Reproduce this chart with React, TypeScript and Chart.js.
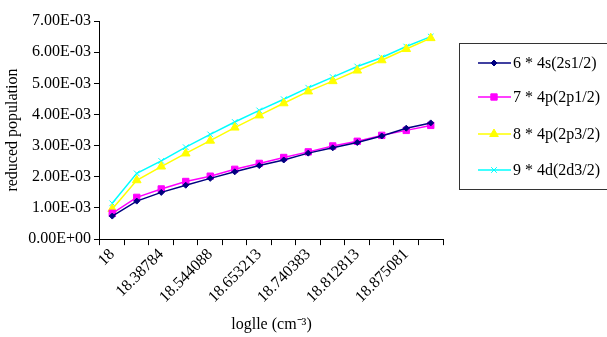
import React, { useEffect, useRef } from 'react';
import { Chart, registerables } from 'chart.js';
import { drawPoint } from 'chart.js/helpers';

Chart.register(...registerables);

const categories = ['18', '18.30103', '18.38784', '18.477121', '18.544088', '18.60206', '18.653213', '18.69897', '18.740383', '18.778151', '18.812813', '18.845098', '18.875081', '18.90309'];

const s4s = [0.74, 1.22, 1.50, 1.73, 1.95, 2.16, 2.36, 2.54, 2.76, 2.93, 3.10, 3.31, 3.56, 3.73].map(v => v * 1e-3);
const s4p1 = [0.83, 1.34, 1.61, 1.85, 2.02, 2.24, 2.43, 2.62, 2.80, 2.99, 3.14, 3.33, 3.49, 3.65].map(v => v * 1e-3);
const s4p3 = [0.97, 1.89, 2.33, 2.75, 3.16, 3.58, 3.97, 4.36, 4.74, 5.07, 5.41, 5.74, 6.10, 6.45].map(v => v * 1e-3);
const s4d = [1.15, 2.11, 2.51, 2.95, 3.36, 3.76, 4.13, 4.49, 4.86, 5.20, 5.54, 5.83, 6.18, 6.50].map(v => v * 1e-3);

const seriesLabels = ['6 * 4s(2s1/2)', '7 * 4p(2p1/2)', '8 * 4p(2p3/2)', '9 * 4d(2d3/2)'];
const xTitle = 'loglle (cm\u207B\u00B3)';
const yTitle = 'reduced population';

const FONT = "'Liberation Serif', 'Times New Roman', serif";

function fmtExp(v: number): string {
  if (v === 0) return '0.00E+00';
  const e = Math.floor(Math.log10(Math.abs(v)) + 1e-9);
  const m = v / Math.pow(10, e);
  const sign = e < 0 ? '-' : '+';
  const ae = Math.abs(e);
  return m.toFixed(2) + 'E' + sign + (ae < 10 ? '0' + ae : String(ae));
}

const legendPlugin = {
  id: 'boxLegend',
  afterDraw(chart: any) {
    const ctx = chart.ctx;
    ctx.save();
    ctx.strokeStyle = '#333';
    ctx.lineWidth = 1;
    ctx.strokeRect(459.5, 43.5, 160, 146);
    const rows = [63, 97, 134, 170];
    chart.data.datasets.forEach((ds: any, i: number) => {
      const y = rows[i];
      ctx.strokeStyle = ds.borderColor;
      ctx.lineWidth = 1.5;
      ctx.beginPath();
      ctx.moveTo(478, y);
      ctx.lineTo(511, y);
      ctx.stroke();
      ctx.fillStyle = ds.pointBackgroundColor;
      ctx.strokeStyle = ds.pointBorderColor;
      ctx.lineWidth = 1;
      drawPoint(ctx, { pointStyle: ds.pointStyle, radius: ds.pointRadius, borderWidth: 1, rotation: 0 }, 494, y);
      ctx.fillStyle = '#000';
      ctx.font = '16px ' + FONT;
      ctx.textBaseline = 'middle';
      ctx.textAlign = 'left';
      ctx.fillText(ds.label, 513, y + 1);
    });
    ctx.restore();
  },
};

export default function App() {
  const ref = useRef<HTMLCanvasElement>(null);
  useEffect(() => {
    if (!ref.current) return;
    Chart.defaults.font.family = FONT;
    Chart.defaults.font.size = 16;
    Chart.defaults.color = '#000';
    const mk = (label: string, data: number[], color: string, style: string, r: number) => ({
      label,
      data,
      borderColor: color,
      backgroundColor: color,
      pointBackgroundColor: color,
      pointBorderColor: color,
      pointStyle: style,
      pointRadius: r,
      pointBorderWidth: 1,
      borderWidth: 1.5,
      tension: 0,
      fill: false,
    });
    const chart = new Chart(ref.current, {
      type: 'line',
      data: {
        labels: categories,
        datasets: [
          mk(seriesLabels[0], s4s, '#000080', 'rectRot', 3),
          mk(seriesLabels[1], s4p1, '#FF00FF', 'rect', 4.5),
          mk(seriesLabels[2], s4p3, '#FFFF00', 'triangle', 5),
          mk(seriesLabels[3], s4d, '#00FFFF', 'crossRot', 4),
        ] as any,
      },
      options: {
        animation: false,
        responsive: false,
        layout: { padding: { left: 3, right: 164, top: 21, bottom: 1 } },
        plugins: { legend: { display: false }, tooltip: { enabled: false } },
        scales: {
          x: {
            offset: true,
            grid: { offset: true, drawOnChartArea: false, drawTicks: true, tickLength: 6, color: '#000' },
            border: { color: '#000', width: 1 },
            ticks: {
              autoSkip: false,
              maxRotation: 45,
              minRotation: 45,
              padding: 0,
              font: { size: 16, family: FONT },
              callback: (_v: any, i: number) => (i % 2 === 0 ? categories[i] : ''),
            },
            title: { display: true, text: xTitle, font: { size: 16, family: FONT }, padding: { top: 8, bottom: 2 } },
          },
          y: {
            min: 0,
            max: 0.007,
            grid: { drawOnChartArea: false, drawTicks: true, tickLength: 6, color: '#000' },
            border: { color: '#000', width: 1 },
            ticks: {
              stepSize: 0.001,
              padding: 3,
              font: { size: 16, family: FONT },
              callback: (v: any) => fmtExp(Number(v)),
            },
            title: { display: true, text: yTitle, font: { size: 16, family: FONT }, padding: { top: 0, bottom: 3 } },
          },
        },
      },
      plugins: [legendPlugin],
    });
    return () => chart.destroy();
  }, []);
  return (
    <div style={{ position: 'fixed', left: 0, top: 0, width: 607, height: 337, background: '#fff' }}>
      <canvas ref={ref} width={607} height={337} style={{ width: 607, height: 337 }} />
    </div>
  );
}
